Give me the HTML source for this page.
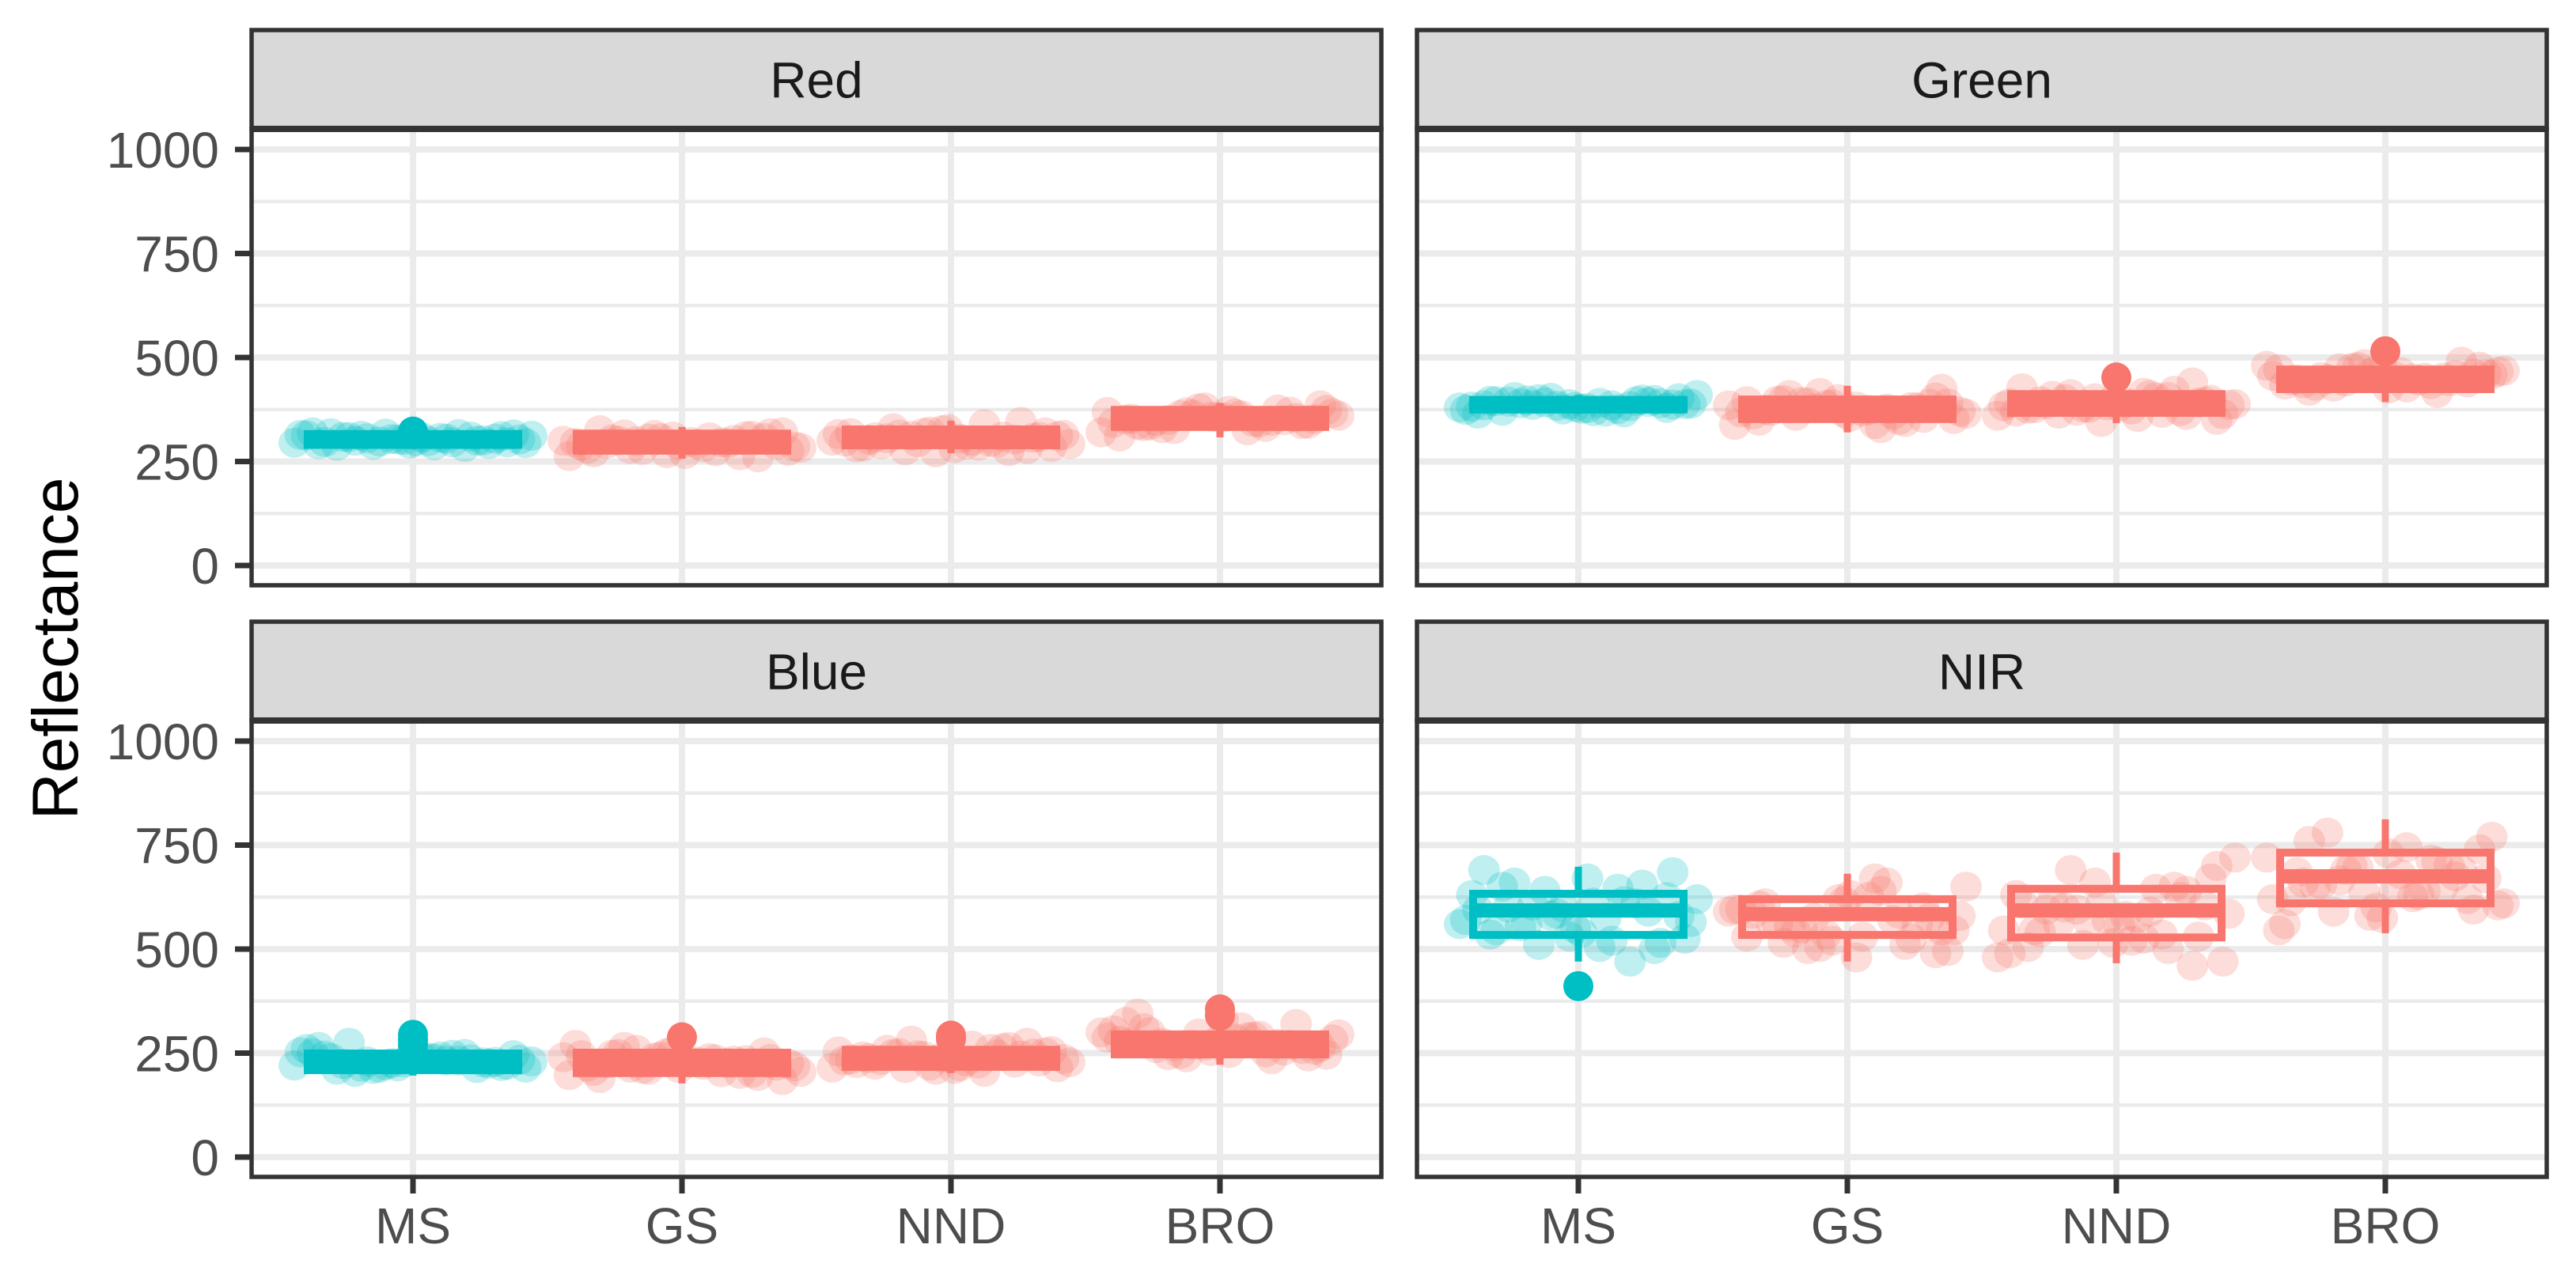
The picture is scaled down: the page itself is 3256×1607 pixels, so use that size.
<!DOCTYPE html>
<html><head><meta charset="utf-8"><style>
html,body{margin:0;padding:0;background:#fff}
svg text{font-family:"Liberation Sans",Arial,sans-serif}
</style></head><body>
<svg id="chart" xmlns="http://www.w3.org/2000/svg" width="3256" height="1602" viewBox="0 0 3256 1602">
<rect width="3256" height="1602" fill="#fff"/>
<g id="layer"></g>
<text x="0" y="0" transform="translate(98,820) rotate(-90)" text-anchor="middle" font-size="82" fill="#000">Reflectance</text>
</svg>
<script>
const categories = ["MS","GS","NND","BRO"];
const facets = ["Red","Green","Blue","NIR"];
const yTicks = [0,250,500,750,1000];
const yTickLabels = ["0","250","500","750","1000"];
const minorTicks = [125,375,625,875];
// points per facet, per category
const redPoints = [
 [295,310,302,288,315,305,298,320,292,308,300,312,285,303,318,296,307,290,313,301,299,309,294,316,304,297,311,289,306,314,300,293,309,303,296,317,291,305,299,312],
 [280,300,265,310,292,320,275,305,288,260,297,315,283,302,270,325,290,308,278,295,312,268,300,286,294,306,272,318,284,299,263,311,289,303,276,296,314,281,307,292],
 [290,315,300,275,325,308,285,340,296,318,280,305,330,292,310,272,302,320,288,312,298,345,282,306,314,294,322,286,309,300,277,316,303,328,291,311,297,319,284,307],
 [340,365,350,320,375,358,335,385,345,368,310,355,372,330,360,348,380,338,352,325,362,343,370,356,347,366,333,378,353,341,361,328,369,349,357,337,374,344,363,351]];
const greenPoints = [
 [380,395,388,372,402,385,392,365,398,378,390,410,383,375,395,387,370,400,382,393,377,405,389,368,384,396,379,391,386,374,399,381,394,388,376,403,385,390,371,397],
 [360,385,345,400,372,390,330,378,395,355,382,410,365,350,388,375,425,340,392,368,380,358,398,370,362,386,348,404,374,393,338,381,367,396,352,377,415,363,389,371],
 [375,400,360,420,385,395,350,410,380,370,440,392,365,388,405,345,378,398,415,372,390,362,382,408,386,367,402,377,394,357,412,383,371,399,388,364,404,379,426,391],
 [440,465,430,480,452,470,420,460,445,475,435,490,455,448,468,415,462,438,478,450,442,472,458,425,453,466,436,484,447,461,428,474,456,443,469,432,459,451,477,446]];
const bluePoints = [
 [220,235,228,210,245,232,215,250,225,240,205,230,248,218,238,222,242,212,260,228,236,275,215,232,226,244,219,237,230,252,214,241,224,234,246,221,265,229,239,217],
 [215,240,200,255,225,185,235,210,245,195,228,265,205,232,250,190,220,238,212,270,202,230,248,218,226,242,207,236,222,258,197,233,214,246,224,204,239,218,252,229],
 [230,250,215,265,240,222,255,205,245,235,275,218,248,228,262,210,238,252,225,280,232,244,212,258,236,247,220,242,230,268,214,254,227,240,233,216,260,243,226,249],
 [260,285,245,300,272,255,310,265,290,240,280,320,250,275,295,235,268,345,258,288,248,305,270,330,262,283,252,297,276,242,312,266,287,256,278,300,246,292,270,325]];
const nirPoints = [
 [560,610,530,650,580,520,640,595,500,670,555,620,470,600,545,685,575,510,630,590,540,660,565,615,585,535,625,505,605,570,655,550,600,525,645,580,690,515,612,562],
 [540,590,510,620,565,495,640,575,530,600,480,555,650,585,520,610,545,670,500,595,560,630,515,580,570,535,605,490,625,550,595,525,615,560,545,660,505,585,575,530],
 [520,600,480,650,570,540,700,590,510,630,460,580,560,720,500,610,545,670,525,595,490,640,555,615,585,535,660,505,605,575,690,545,625,515,595,470,645,565,610,530],
 [620,680,590,720,650,600,760,670,630,700,560,690,640,780,610,710,580,660,740,625,690,545,675,730,655,605,715,635,685,595,745,665,620,700,575,650,770,640,695,615]];
// box stats: [lowerWhisker, q1, median, q3, upperWhisker]
const redBoxes = [[280,290,303,316,330],[257,276,297,317,333],[270,289,308,327,348],[308,333,353,374,390]];
const greenBoxes = [[365,375,386,398,410],[320,352,376,399,432],[342,367,390,412,440],[393,424,449,471,500]];
const blueBoxes = [[196,209,229,249,262],[177,202,225,251,278],[202,217,238,258,280],[222,247,272,295,320]];
const nirBoxes = [[470,534,593,633,698],[470,534,584,620,681],[466,528,593,645,732],[538,610,675,732,812]];
const redOutliers = [[322],[],[],[]];
const greenOutliers = [[],[],[452],[515]];
const blueOutliers = [[294,282,270],[288],[292,284],[355,340]];
const nirOutliers = [[411],[],[],[]];

const pointSets=[redPoints,greenPoints,bluePoints,nirPoints];
const boxSets=[redBoxes,greenBoxes,blueBoxes,nirBoxes];
const outSets=[redOutliers,greenOutliers,blueOutliers,nirOutliers];
const colors=["#00BFC4","#F8766D","#F8766D","#F8766D"];

const NS="http://www.w3.org/2000/svg";
const layer=document.getElementById('layer');
function mk(tag,attrs,parent){const e=document.createElementNS(NS,tag);for(const k in attrs)e.setAttribute(k,attrs[k]);(parent||layer).appendChild(e);return e;}

const colX=[318,1791], PW=1428, STRIP_H=125;
const stripTop=[38,786], panelTop=[163,911], panelBot=[740,1488], base=[715,1463];
function yScale(row,v){return base[row]-v*131.5/250;}
function xScale(col,i){return colX[col]+PW*(i+1-0.4)/4.2;}

facets.forEach((f,fi)=>{
  const col=fi%2,row=Math.floor(fi/2);
  const g=mk('g',{});
  
  
  const x0=colX[col],x1=x0+PW,top=panelTop[row],bot=panelBot[row];
  minorTicks.forEach(v=>{const l=mk('line',{x1:x0,x2:x1,y1:yScale(row,v),y2:yScale(row,v),stroke:'#ebebeb','stroke-width':4.5},g);
    });
  yTicks.forEach(v=>{const l=mk('line',{x1:x0,x2:x1,y1:yScale(row,v),y2:yScale(row,v),stroke:'#ebebeb','stroke-width':8},g);
    });
  categories.forEach((c,i)=>{const l=mk('line',{x1:xScale(col,i),x2:xScale(col,i),y1:top,y2:bot,stroke:'#ebebeb','stroke-width':8},g);
    });
  categories.forEach((c,i)=>{
    const pts=pointSets[fi][i];
    const n=pts.length;
    pts.forEach((v,k)=>{
      const jx=((((k*29+i*11)%n)/(n-1))-0.5)*300;
      const p=mk('ellipse',{cx:xScale(col,i)+jx,cy:yScale(row,v),rx:20,ry:19,fill:colors[i],'fill-opacity':0.25},g);
      
      
    });
  });
  categories.forEach((c,i)=>{
    const b=boxSets[fi][i],cx=xScale(col,i),hw=133,col_=colors[i];
    const bg=mk('g',{stroke:col_,fill:'none'},g);
    
    
    mk('line',{x1:cx,x2:cx,y1:yScale(row,b[3]),y2:yScale(row,b[4]),'stroke-width':9},bg);
    mk('line',{x1:cx,x2:cx,y1:yScale(row,b[1]),y2:yScale(row,b[0]),'stroke-width':9},bg);
    mk('rect',{x:cx-hw,y:yScale(row,b[3]),width:2*hw,height:yScale(row,b[1])-yScale(row,b[3]),'stroke-width':10},bg);
    mk('line',{x1:cx-hw,x2:cx+hw,y1:yScale(row,b[2]),y2:yScale(row,b[2]),'stroke-width':18},bg);
    outSets[fi][i].forEach(v=>{const o=mk('ellipse',{cx:cx,cy:yScale(row,v),rx:19,ry:19,fill:col_,stroke:'none'},g);
      });
  });
  const br=mk('rect',{x:x0,y:top,width:PW,height:bot-top,fill:'none',stroke:'#333','stroke-width':5.5},g);
  
  const s=mk('rect',{x:x0,y:stripTop[row],width:PW,height:STRIP_H,fill:'#d9d9d9',stroke:'#333','stroke-width':5.5},g);
  
  const sl=mk('line',{x1:x0,x2:x1,y1:top,y2:top,stroke:'#333','stroke-width':8},g);
  
  const st=mk('text',{x:x0+PW/2,y:stripTop[row]+STRIP_H/2+23,'text-anchor':'middle','font-size':64,fill:'#1a1a1a'},g);
  st.textContent=f;
  
  if(col===0){
    yTicks.forEach((v,k)=>{
      const t=mk('line',{x1:x0-21,x2:x0,y1:yScale(row,v),y2:yScale(row,v),stroke:'#333','stroke-width':7},g);
      
      const tx=mk('text',{x:x0-41,y:yScale(row,v)+23,'text-anchor':'end','font-size':64,fill:'#4d4d4d'},g);
      tx.textContent=yTickLabels[k];
      
    });
  }
  if(row===1){
    categories.forEach((c,i)=>{
      const t=mk('line',{x1:xScale(col,i),x2:xScale(col,i),y1:bot,y2:bot+21,stroke:'#333','stroke-width':7},g);
      
      const tx=mk('text',{x:xScale(col,i),y:1572,'text-anchor':'middle','font-size':64,fill:'#4d4d4d'},g);
      tx.textContent=c;
      
    });
  }
});
</script>
</body></html>
